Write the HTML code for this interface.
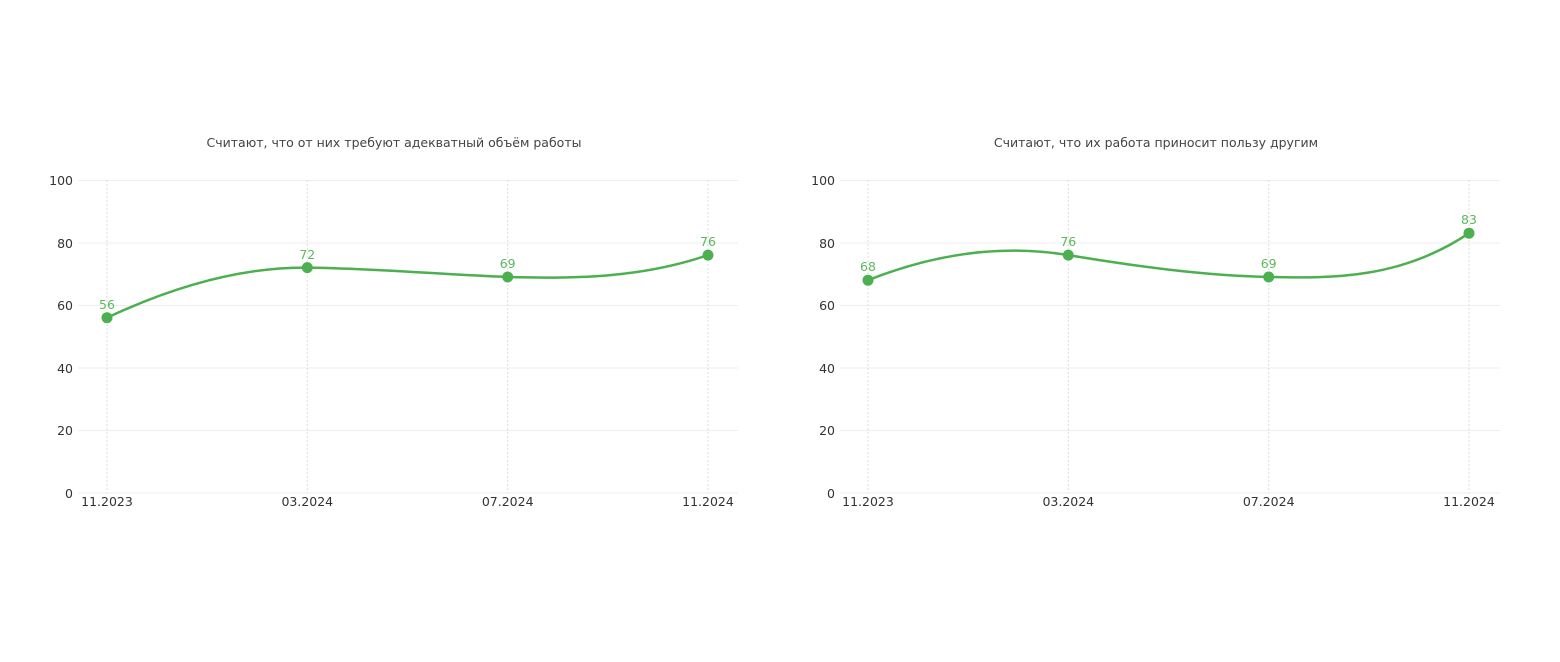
<!DOCTYPE html>
<html><head><meta charset="utf-8"><style>
html,body{margin:0;padding:0;background:#fff;}
svg{display:block;font-family:"DejaVu Sans","Liberation Sans",sans-serif;}
</style></head><body>
<svg width="1560" height="662" viewBox="0 0 1560 662">
<g id="L">
<text x="394" y="147" text-anchor="middle" font-size="12.5" fill="#444">Считают, что от них требуют адекватный объём работы</text>
<g stroke="#eee" stroke-width="1">
<line x1="78" y1="180.5" x2="738" y2="180.5"/><line x1="78" y1="243" x2="738" y2="243"/><line x1="78" y1="305.5" x2="738" y2="305.5"/><line x1="78" y1="368" x2="738" y2="368"/><line x1="78" y1="430.5" x2="738" y2="430.5"/><line x1="78" y1="493" x2="738" y2="493"/>
</g>
<g stroke="#ddd" stroke-width="1" stroke-dasharray="2,2">
<line x1="107" y1="180" x2="107" y2="493"/><line x1="307.3" y1="180" x2="307.3" y2="493"/><line x1="507.7" y1="180" x2="507.7" y2="493"/><line x1="708" y1="180" x2="708" y2="493"/>
</g>
<g font-size="12.5" fill="#333" text-anchor="end">
<text x="73" y="185">100</text><text x="73" y="248">80</text><text x="73" y="310">60</text><text x="73" y="373">40</text><text x="73" y="435">20</text><text x="73" y="498">0</text>
</g>
<g font-size="12.5" fill="#333" text-anchor="middle">
<text x="107" y="506">11.2023</text><text x="307.3" y="506">03.2024</text><text x="507.7" y="506">07.2024</text><text x="708" y="506">11.2024</text>
</g>
<path d="M107,317.7 C173.8,286.4 240.5,267.0 307.3,267.6 C374.1,268.3 440.9,274.5 507.7,277.0 C574.4,278.9 641.3,278.0 708,255.1" fill="none" stroke="#4caf50" stroke-width="2.5"/>
<g fill="#4caf50"><circle cx="107" cy="317.7" r="5.5"/><circle cx="307.3" cy="267.6" r="5.5"/><circle cx="507.7" cy="277" r="5.5"/><circle cx="708" cy="255.1" r="5.5"/></g>
<g font-size="12.5" fill="#5cb85c" text-anchor="middle">
<text x="107" y="309">56</text><text x="307.3" y="259">72</text><text x="507.7" y="268">69</text><text x="708" y="246">76</text>
</g>
</g>
<g id="R">
<text x="1156" y="147" text-anchor="middle" font-size="12.5" fill="#444">Считают, что их работа приносит пользу другим</text>
<g stroke="#eee" stroke-width="1">
<line x1="840" y1="180.5" x2="1500" y2="180.5"/><line x1="840" y1="243" x2="1500" y2="243"/><line x1="840" y1="305.5" x2="1500" y2="305.5"/><line x1="840" y1="368" x2="1500" y2="368"/><line x1="840" y1="430.5" x2="1500" y2="430.5"/><line x1="840" y1="493" x2="1500" y2="493"/>
</g>
<g stroke="#ddd" stroke-width="1" stroke-dasharray="2,2">
<line x1="868" y1="180" x2="868" y2="493"/><line x1="1068.3" y1="180" x2="1068.3" y2="493"/><line x1="1268.7" y1="180" x2="1268.7" y2="493"/><line x1="1469" y1="180" x2="1469" y2="493"/>
</g>
<g font-size="12.5" fill="#333" text-anchor="end">
<text x="835" y="185">100</text><text x="835" y="248">80</text><text x="835" y="310">60</text><text x="835" y="373">40</text><text x="835" y="435">20</text><text x="835" y="498">0</text>
</g>
<g font-size="12.5" fill="#333" text-anchor="middle">
<text x="868" y="506">11.2023</text><text x="1068.3" y="506">03.2024</text><text x="1268.7" y="506">07.2024</text><text x="1469" y="506">11.2024</text>
</g>
<path d="M868,280.2 C934.8,253.6 1001.5,244.2 1068.3,255.1 C1135.1,266.1 1201.9,275.5 1268.7,277.0 C1335.4,278.6 1402.3,278.0 1469,233.2" fill="none" stroke="#4caf50" stroke-width="2.5"/>
<g fill="#4caf50"><circle cx="868" cy="280.2" r="5.5"/><circle cx="1068.3" cy="255.1" r="5.5"/><circle cx="1268.7" cy="277" r="5.5"/><circle cx="1469" cy="233.2" r="5.5"/></g>
<g font-size="12.5" fill="#5cb85c" text-anchor="middle">
<text x="868" y="271">68</text><text x="1068.3" y="246">76</text><text x="1268.7" y="268">69</text><text x="1469" y="224">83</text>
</g>
</g>
</svg>
</body></html>
